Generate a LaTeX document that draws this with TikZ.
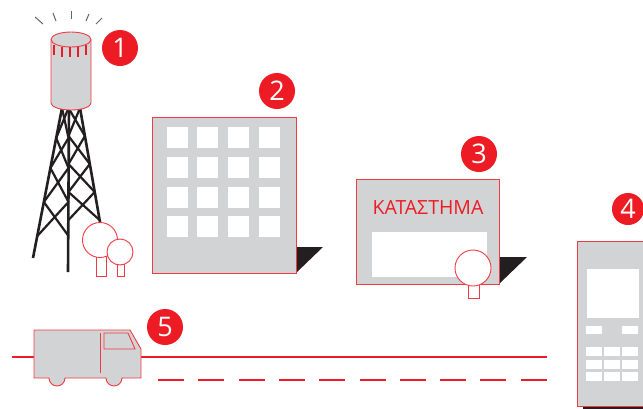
\documentclass[tikz,border=0pt]{standalone}
\usepackage{fontspec}
\usepackage{xcolor}
\newfontfamily\labelfont{Open Sans}
\definecolor{badgered}{HTML}{ED1C24}
\definecolor{linered}{HTML}{EE3B45}
\definecolor{wallgrey}{HTML}{D1D3D4}
\definecolor{darkshadow}{HTML}{231F20}
\tikzset{
  badge/.style={circle, fill=badgered, text=white, minimum size=36pt, inner sep=0pt, font=\labelfont\fontsize{27}{27}\selectfont},
  wall/.style={draw=linered, fill=wallgrey, line width=0.9pt},
  pane/.style={fill=white},
  treeline/.style={draw=linered, fill=white, line width=0.9pt},
  leg/.style={draw=darkshadow, line width=2.6pt},
  redline/.style={draw=badgered, line width=2pt}
}

\begin{document}
\begin{tikzpicture}[x=1pt, y=-1pt]
\clip (0,0) rectangle (643,408);
\fill[white] (0,0) rectangle (643,408);

% tower
\draw[gray!80!black, line width=1pt] (35,17) -- (43,24);
\draw[gray!80!black, line width=1pt] (53,13) -- (56,21);
\draw[gray!80!black, line width=1pt] (71,11) -- (71,19);
\draw[gray!80!black, line width=1pt] (89,14) -- (86,21);
\draw[gray!80!black, line width=1pt] (102,18) -- (96,24);
\draw[leg] (62,108) -- (33,258);
\draw[leg] (69,108) -- (68,272);
\draw[leg] (80,108) -- (100,222);
\foreach \a/\b in {108/138, 138/168, 168/202, 202/236}{
  \draw[leg, line width=2.2pt] ({62-(\a-108)*0.193},\a) -- (68.5,\b);
  \draw[leg, line width=2.2pt] (68.5,\a) -- ({62-(\b-108)*0.193},\b);
}
\foreach \a/\b in {108/136, 136/164, 164/192, 192/220}{
  \draw[leg, line width=2.2pt] ({80+(\a-108)*0.175},\a) -- (68.5,\b);
  \draw[leg, line width=2.2pt] (68.5,\a) -- ({80+(\b-108)*0.175},\b);
}
\filldraw[wall] (51,39.5) -- (51,103) arc[start angle=180, end angle=0, x radius=20, y radius=7] -- (91,39.5) arc[start angle=0, end angle=-180, x radius=20, y radius=7.5] -- cycle;
\draw[linered, line width=0.9pt] (51,39.5) arc[start angle=180, end angle=0, x radius=20, y radius=7.5];
\foreach \x/\t in {54/45, 62/46.5, 70/47, 78/46.5, 86/45}
  \draw[badgered, line width=1.8pt] (\x,\t) -- (\x,\t+10);
\node[badge](B1) at (120,48) {1};

% trees by the tower
\draw[treeline] (96,256) rectangle (106,276);
\draw[treeline] (100,240) circle[radius=17.5];
\draw[treeline] (117,264) rectangle (124,276);
\draw[treeline] (120,252) circle[radius=13];

% office block
\fill[darkshadow] (296,247) -- (323,247) -- (296,273) -- cycle;
\draw[wall] (152,117) rectangle (296,273);
\foreach \x in {167,197,228,259}
  \foreach \y in {127,157,187,216}
    \fill[pane] (\x,\y) rectangle ++(21,21);
\node[badge](B2) at (277,91) {2};

% shop
\fill[darkshadow] (499,257) -- (527,257) -- (499,284) -- cycle;
\draw[wall] (356,179) rectangle (499,284);
\node[text=badgered, font=\labelfont\fontsize{19.5}{19.5}\selectfont](Shop) at (428,208) {ΚΑΤΑΣΤΗΜΑ};
\fill[pane] (372,232) rectangle (487,277);
\draw[treeline] (468,284) rectangle (479,298);
\draw[treeline] (473,268) circle[radius=18];
\node[badge](B3) at (479,154) {3};

% phone
\fill[darkshadow] (583,403) rectangle (650,409);
\draw[wall] (577,241) rectangle (660,406);
\fill[pane] (587,269) rectangle (639,318);
\fill[pane] (586,326) rectangle (602,334);
\fill[pane] (622,326) rectangle (638,334);
\foreach \x in {586,604,622}
  \foreach \y in {347,360,372}
    \fill[pane] (\x,\y) rectangle ++(16,8.5);
\node[badge, minimum size=32pt](B4) at (628,209) {4};

% road and van
\draw[redline] (12,357) -- (547,357);
\foreach \i in {0,...,9}
  \draw[redline] ({158+40.3*\i},380) -- ({184+40.3*\i},380);
\draw[wall] (34,330) -- (130,330) -- (141,349) -- (141,378) -- (122,378)
  arc[start angle=0, end angle=180, radius=8] -- (65,378)
  arc[start angle=0, end angle=180, radius=8] -- (34,378) -- cycle;
\draw[linered, line width=0.9pt] (104,333) -- (128,333) -- (135,349) -- (104,349) -- cycle;
\draw[linered, line width=0.9pt] (100,333) -- (100,373);
\node[badge](B5) at (165,327) {5};
\end{tikzpicture}
\end{document}
